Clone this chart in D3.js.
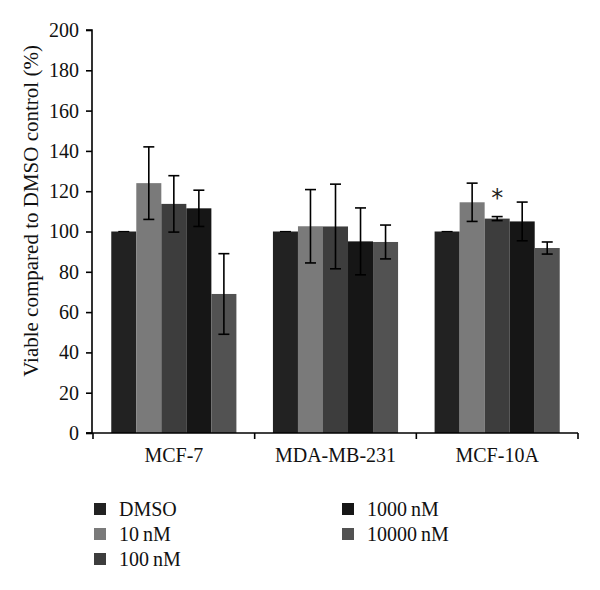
<!DOCTYPE html>
<html><head><meta charset="utf-8">
<script src="https://cdn.jsdelivr.net/npm/d3@7"></script>
<style>body{margin:0;background:#fff}</style>
</head><body>
<svg id="c" width="600" height="590"></svg>
<script>
const categories = ["MCF-7", "MDA-MB-231", "MCF-10A"];
const seriesNames = ["DMSO", "10 nM", "100 nM", "1000 nM", "10000 nM"];
const seriesColors = ["#222222", "#7a7a7a", "#3d3d3d", "#161616", "#525252"];
const DMSO = [100, 100, 100];
const nM10 = [124, 102.6, 114.5];
const nM100 = [113.7, 102.5, 106.4];
const nM1000 = [111.5, 95.1, 105];
const nM10000 = [69, 94.8, 91.8];
const errDMSO = [0, 0, 0];
const err10 = [18, 18.2, 9.5];
const err100 = [14, 21, 1];
const err1000 = [9, 16.6, 9.6];
const err10000 = [20, 8.4, 3];
const yTicks = [0, 20, 40, 60, 80, 100, 120, 140, 160, 180, 200];
const starCategory = "MCF-10A", starSeries = "100 nM";

const values = [DMSO, nM10, nM100, nM1000, nM10000];
const errs = [errDMSO, err10, err100, err1000, err10000];
const font = "'Liberation Serif', 'DejaVu Serif', serif";
const fs = 20;

const svg = d3.select("#c");
const x0 = 93, x1 = 578, yTop = 30, yBot = 433;
const x = d3.scaleBand().domain(categories).range([x0, x1]).paddingInner(0).paddingOuter(0);
const inner = d3.scaleBand().domain(seriesNames).range([0, x.bandwidth()]).paddingOuter(0.73).paddingInner(0);
const y = d3.scaleLinear().domain([0, 200]).range([yBot, yTop]);

const data = [];
categories.forEach((c, i) => seriesNames.forEach((s, j) => data.push({c, s, j, v: values[j][i], e: errs[j][i]})));

svg.selectAll("rect.bar").data(data).enter().append("rect")
  .attr("x", d => x(d.c) + inner(d.s))
  .attr("y", d => y(d.v))
  .attr("width", inner.bandwidth())
  .attr("height", d => y(0) - y(d.v))
  .attr("fill", d => seriesColors[d.j]);

// error bars
const eb = svg.selectAll("g.err").data(data.filter(d => d.e > 0)).enter().append("g");
eb.append("line")
  .attr("x1", d => x(d.c) + inner(d.s) + inner.bandwidth()/2)
  .attr("x2", d => x(d.c) + inner(d.s) + inner.bandwidth()/2)
  .attr("y1", d => y(d.v + d.e)).attr("y2", d => y(d.v - d.e))
  .attr("stroke", "#000").attr("stroke-width", 1.6);
[1, -1].forEach(sg => {
  eb.append("line")
    .attr("x1", d => x(d.c) + inner(d.s) + inner.bandwidth()/2 - 5.5)
    .attr("x2", d => x(d.c) + inner(d.s) + inner.bandwidth()/2 + 5.5)
    .attr("y1", d => y(d.v + sg*d.e)).attr("y2", d => y(d.v + sg*d.e))
    .attr("stroke", "#000").attr("stroke-width", 1.6);
});
svg.selectAll("line.cap0").data(data.filter(d => d.e === 0)).enter().append("line")
  .attr("x1", d => x(d.c) + inner(d.s) + inner.bandwidth()/2 - 5.5)
  .attr("x2", d => x(d.c) + inner(d.s) + inner.bandwidth()/2 + 5.5)
  .attr("y1", d => y(d.v)).attr("y2", d => y(d.v))
  .attr("stroke", "#000").attr("stroke-width", 1.2);

// asterisk
const sd = data.find(d => d.c === starCategory && d.s === starSeries);
svg.append("text")
  .attr("x", x(sd.c) + inner(sd.s) + inner.bandwidth()/2)
  .attr("y", y(sd.v + sd.e) - 11)
  .attr("text-anchor", "middle").attr("font-family", "'DejaVu Sans', sans-serif").attr("font-size", 24)
  .attr("fill", "#222").text("*");

// y axis
const ya = svg.append("g").attr("transform", `translate(${x0 - 1},0)`)
  .call(d3.axisLeft(y).tickValues(yTicks).tickSize(6).tickPadding(7));
ya.select(".domain").attr("stroke", "#000").attr("stroke-width", 1.6).attr("d", `M-6,${yTop}H0V${yBot}H-6`);
ya.selectAll(".tick line").attr("stroke", "#000").attr("stroke-width", 1.6);
ya.selectAll("text").attr("font-family", font).attr("font-size", fs).attr("fill", "#111");

// x axis
const xa = svg.append("g").attr("transform", `translate(0,${yBot})`)
  .call(d3.axisBottom(x).tickSize(0).tickPadding(15));
xa.select(".domain").attr("stroke", "#000").attr("stroke-width", 1.6).attr("d", `M${x0 - 7},0H${x1}`);
xa.selectAll("text").attr("font-family", font).attr("font-size", fs).attr("fill", "#111");
const bounds = [x0].concat(categories.map(c => x(c) + x.bandwidth()));
svg.selectAll("line.xt").data(bounds).enter().append("line")
  .attr("x1", d => d).attr("x2", d => d).attr("y1", yBot).attr("y2", yBot + 6)
  .attr("stroke", "#000").attr("stroke-width", 1.6);

// y label
svg.append("text")
  .attr("transform", `translate(38,${(32 + 390) / 2}) rotate(-90)`)
  .attr("text-anchor", "middle").attr("font-family", font).attr("font-size", 21).attr("fill", "#111")
  .text("Viable compared to DMSO control (%)");

// legend
const legPos = [[94, 509], [94, 534], [94, 559], [342, 509], [342, 534]];
const lg = svg.selectAll("g.leg").data(seriesNames).enter().append("g")
  .attr("transform", (d, i) => `translate(${legPos[i][0]},${legPos[i][1]})`);
lg.append("rect").attr("x", 0).attr("y", -6).attr("width", 12).attr("height", 12)
  .attr("fill", (d, i) => seriesColors[i]);
lg.append("text").attr("x", 25).attr("y", 7).attr("font-family", font).attr("font-size", fs).attr("fill", "#111")
  .text(d => d.replace(" ", "\u2009"));
</script>
</body></html>
